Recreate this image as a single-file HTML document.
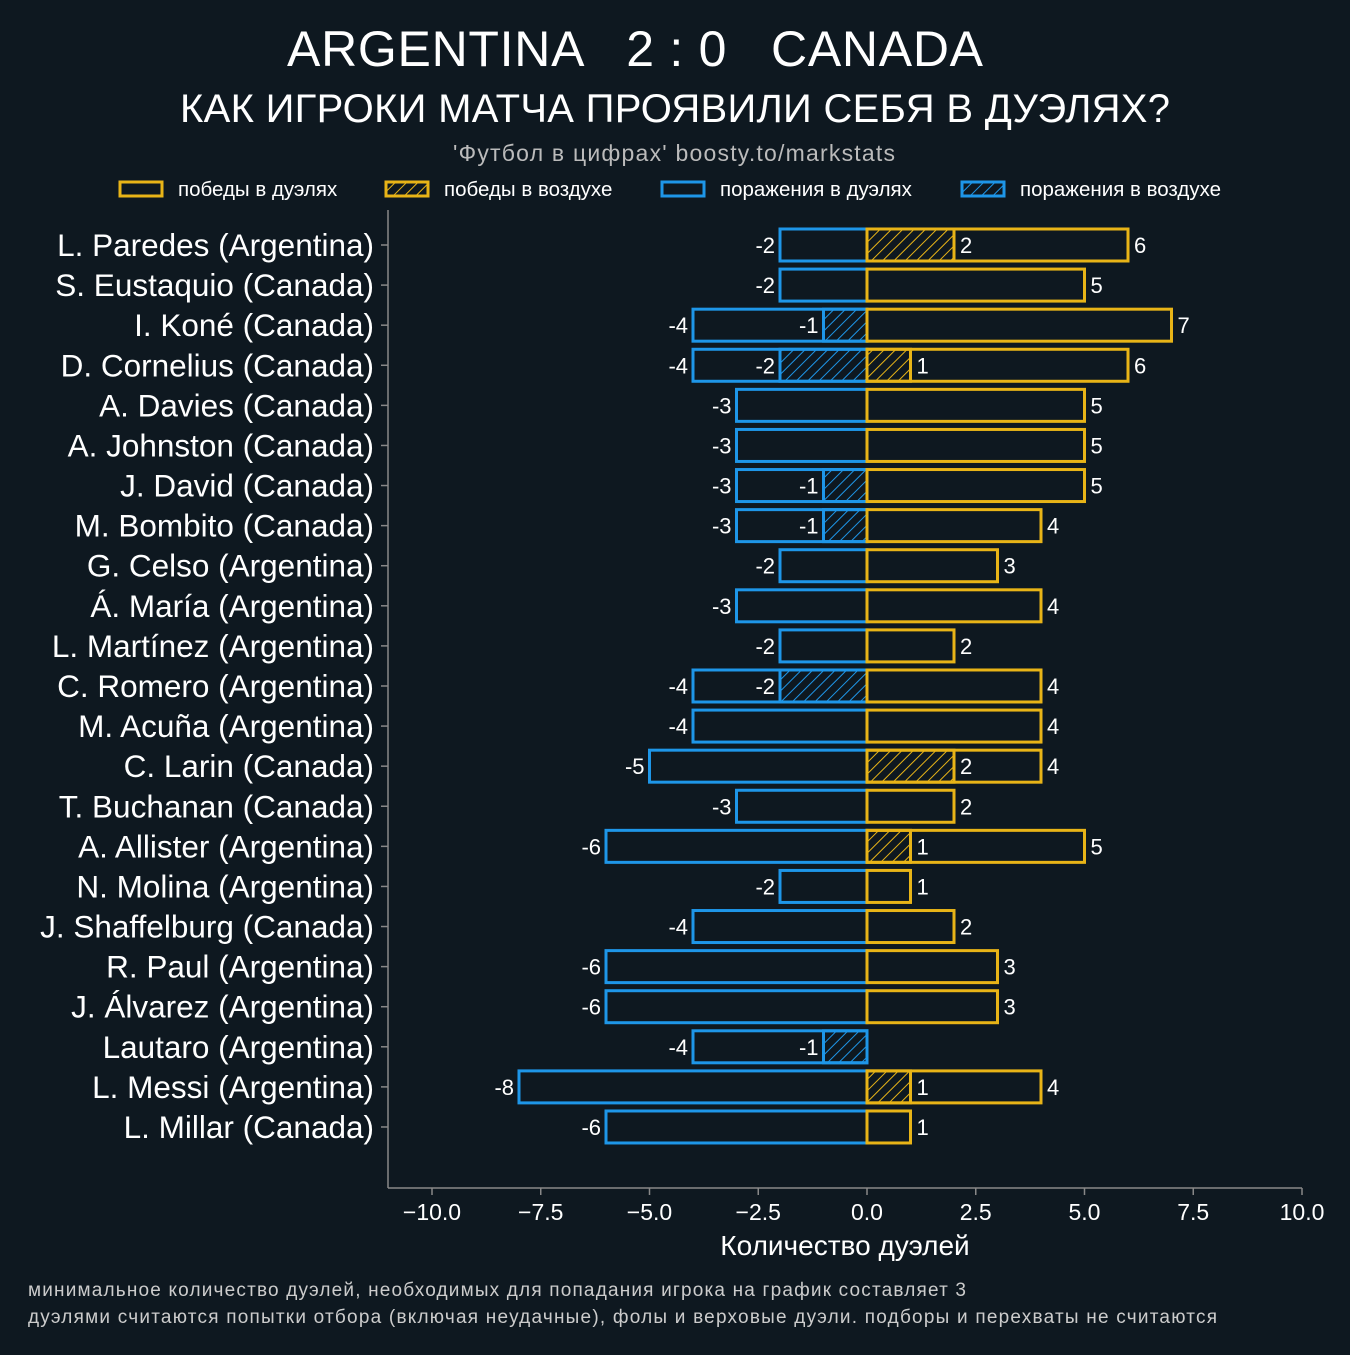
<!DOCTYPE html>
<html><head><meta charset="utf-8"><style>
body{margin:0;background:#0e1820;}
svg text{font-family:"Liberation Sans",sans-serif;}
</style></head><body>
<svg id="chart" width="1350" height="1350" viewBox="0 0 1350 1350" xmlns="http://www.w3.org/2000/svg">
<defs>
<pattern id="hy" width="8" height="8" patternUnits="userSpaceOnUse" patternTransform="rotate(45)"><line x1="0" y1="0" x2="0" y2="8" stroke="#e8b417" stroke-width="2"/></pattern>
<pattern id="hb" width="8" height="8" patternUnits="userSpaceOnUse" patternTransform="rotate(45)"><line x1="0" y1="0" x2="0" y2="8" stroke="#1e96e8" stroke-width="2"/></pattern>
</defs>
<rect width="1350" height="1350" fill="#0e1820"/>
<text x="635" y="66" font-size="50" fill="#fff" text-anchor="middle" xml:space="preserve" textLength="696">ARGENTINA   2 : 0   CANADA</text>
<text x="180" y="122" font-size="40" fill="#fff" textLength="990">КАК ИГРОКИ МАТЧА ПРОЯВИЛИ СЕБЯ В ДУЭЛЯХ?</text>
<text x="453" y="161" font-size="23" fill="#bbb" textLength="442">'Футбол в цифрах' boosty.to/markstats</text>
<g font-size="20.5" fill="#fff">
<rect x="120" y="182" width="42" height="14" fill="none" stroke="#e8b417" stroke-width="3"/><text x="178" y="196">победы в дуэлях</text>
<rect x="386" y="182" width="42" height="14" fill="url(#hy)" stroke="#e8b417" stroke-width="3"/><text x="444" y="196">победы в воздухе</text>
<rect x="662" y="182" width="42" height="14" fill="none" stroke="#1e96e8" stroke-width="3"/><text x="720" y="196">поражения в дуэлях</text>
<rect x="962" y="182" width="42" height="14" fill="url(#hb)" stroke="#1e96e8" stroke-width="3"/><text x="1020" y="196">поражения в воздухе</text>
</g>
<g id="plot"></g>
<text x="845" y="1255" font-size="28" fill="#fff" text-anchor="middle">Количество дуэлей</text>
<text x="28" y="1296" font-size="19" fill="#ccc" textLength="938">минимальное количество дуэлей, необходимых для попадания игрока на график составляет 3</text>
<text x="28" y="1323" font-size="19" fill="#ccc" textLength="1189">дуэлями считаются попытки отбора (включая неудачные), фолы и верховые дуэли. подборы и перехваты не считаются</text>
</svg>
<script>
const players=["L. Paredes (Argentina)","S. Eustaquio (Canada)","I. Koné (Canada)","D. Cornelius (Canada)","A. Davies (Canada)","A. Johnston (Canada)","J. David (Canada)","M. Bombito (Canada)","G. Celso (Argentina)","Á. María (Argentina)","L. Martínez (Argentina)","C. Romero (Argentina)","M. Acuña (Argentina)","C. Larin (Canada)","T. Buchanan (Canada)","A. Allister (Argentina)","N. Molina (Argentina)","J. Shaffelburg (Canada)","R. Paul (Argentina)","J. Álvarez (Argentina)","Lautaro (Argentina)","L. Messi (Argentina)","L. Millar (Canada)"];
const losses=[-2,-2,-4,-4,-3,-3,-3,-3,-2,-3,-2,-4,-4,-5,-3,-6,-2,-4,-6,-6,-4,-8,-6];
const airLosses=[0,0,-1,-2,0,0,-1,-1,0,0,0,-2,0,0,0,0,0,0,0,0,-1,0,0];
const wins=[6,5,7,6,5,5,5,4,3,4,2,4,4,4,2,5,1,2,3,3,0,4,1];
const airWins=[2,0,0,1,0,0,0,0,0,0,0,0,0,2,0,1,0,0,0,0,0,1,0];
const xTicks=[-10,-7.5,-5,-2.5,0,2.5,5,7.5,10];
const NS="http://www.w3.org/2000/svg";
const g=document.getElementById('plot');
const X=v=>867+v*43.5;
const Y=i=>245+i*40.09;
const bh=32;
function el(t,a){const e=document.createElementNS(NS,t);for(const k in a)e.setAttribute(k,a[k]);g.appendChild(e);return e;}
function txt(x,y,s,anchor,size,name){const e=el('text',{x:x,y:y,'font-size':size,fill:'#fff','text-anchor':anchor});e.textContent=s;


return e;}
const sp=el('line',{x1:388,y1:210,x2:388,y2:1188,stroke:'#888','stroke-width':1.5});


const bp=el('line',{x1:388,y1:1188,x2:1302,y2:1188,stroke:'#888','stroke-width':1.5});


xTicks.forEach(t=>{
 el('line',{x1:X(t),y1:1188,x2:X(t),y2:1195,stroke:'#888','stroke-width':1.5});
 const lab=(t<0?'\u2212':'')+Math.abs(t).toFixed(1);
 txt(X(t),1220,lab,'middle',23,'x-tick-label');
});
players.forEach((p,i)=>{
 const y=Y(i);
 el('line',{x1:381,y1:y,x2:388,y2:y,stroke:'#888','stroke-width':1.5});
 txt(374,y+11,p,'end',31.5,'y-tick-label');
 let r=el('rect',{x:X(losses[i]),y:y-bh/2,width:X(0)-X(losses[i]),height:bh,fill:'none',stroke:'#1e96e8','stroke-width':3});
 
 
 txt(X(losses[i])-5,y+8,String(losses[i]),'end',22,'loss-label');
 if(airLosses[i]){
  r=el('rect',{x:X(airLosses[i]),y:y-bh/2,width:X(0)-X(airLosses[i]),height:bh,fill:'url(#hb)',stroke:'#1e96e8','stroke-width':3});
  
  
  txt(X(airLosses[i])-5,y+8,String(airLosses[i]),'end',22,'air-loss-label');
 }
 if(wins[i]){
  r=el('rect',{x:X(0),y:y-bh/2,width:X(wins[i])-X(0),height:bh,fill:'none',stroke:'#e8b417','stroke-width':3});
  
  
  txt(X(wins[i])+6,y+8,String(wins[i]),'start',22,'win-label');
 }
 if(airWins[i]){
  r=el('rect',{x:X(0),y:y-bh/2,width:X(airWins[i])-X(0),height:bh,fill:'url(#hy)',stroke:'#e8b417','stroke-width':3});
  
  
  txt(X(airWins[i])+6,y+8,String(airWins[i]),'start',22,'air-win-label');
 }
});
</script>
</body></html>
